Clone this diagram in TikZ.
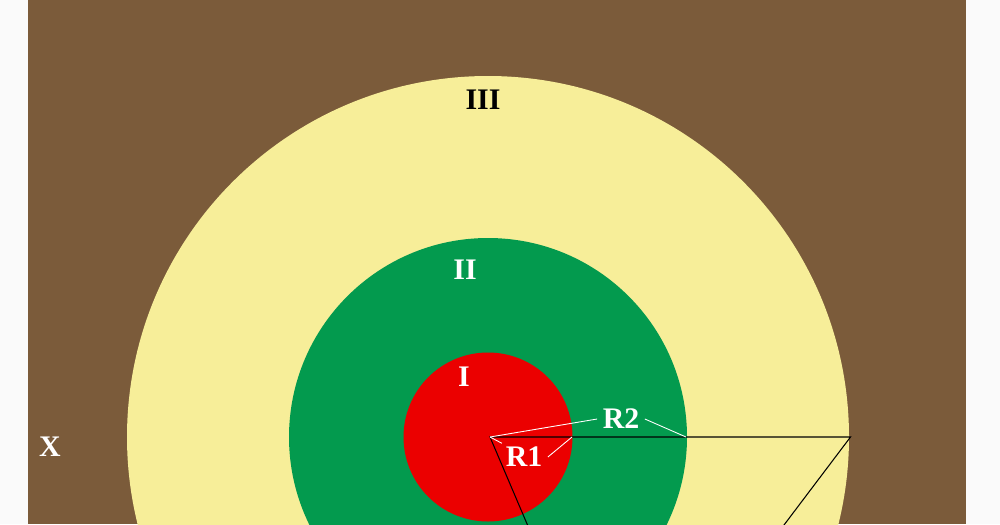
\documentclass[tikz,border=0pt]{standalone}
\usepackage{fontspec}
\setmainfont{Liberation Serif}
\definecolor{paper}{HTML}{FAFAFA}
\definecolor{soil}{HTML}{7B5B3A}
\definecolor{zoneIII}{HTML}{F7EE99}
\definecolor{zoneII}{HTML}{039A4E}
\definecolor{zoneI}{HTML}{EB0000}
\begin{document}
\begin{tikzpicture}[x=0.02cm, y=-0.02cm]
%define
\tikzstyle{zone} = [text=white, font=\fontsize{17}{20}\selectfont\bfseries, inner sep=0pt]
\tikzstyle{edge} = [black, line width=0.6pt]
\tikzstyle{leader} = [white, line width=0.5pt]

\useasboundingbox (0,0) rectangle (1000,524);
\fill[paper] (0,0) rectangle (1000,524);
\fill[soil] (28,0) rectangle (966,524);
\begin{scope}
\clip (28,0) rectangle (966,524);
\fill[zoneIII] (488,437) circle[radius=361];
\fill[zoneII] (488,437) circle[radius=199];
\fill[zoneI] (488,437) circle[radius=84.5];

\coordinate (O) at (490,437);
\coordinate (P) at (850.5,437);
\coordinate (Q) at (620,742);
\coordinate (edge_I) at (572,437);
\coordinate (edge_II) at (686,437);

\node[zone, text=black](label_III) at (483,100){III};
\node[zone](label_II) at (465,270){II};
\node[zone](label_I) at (464,377){I};
\node[zone](label_R2) at (621,419){R2};
\node[zone](label_R1) at (524,457){R1};
\node[zone](label_X) at (50,447){X};

\draw[edge](O) -- (P) -- (Q) -- cycle;

\draw[leader](O) -- ([xshift=-3pt]label_R2.west);
\draw[leader]([xshift=3pt]label_R2.east) -- (edge_II);
\draw[leader](O) -- ([xshift=-2pt, yshift=2pt]label_R1.north west);
\draw[leader]([xshift=3pt]label_R1.east) -- (edge_I);
\end{scope}
\end{tikzpicture}
\end{document}
